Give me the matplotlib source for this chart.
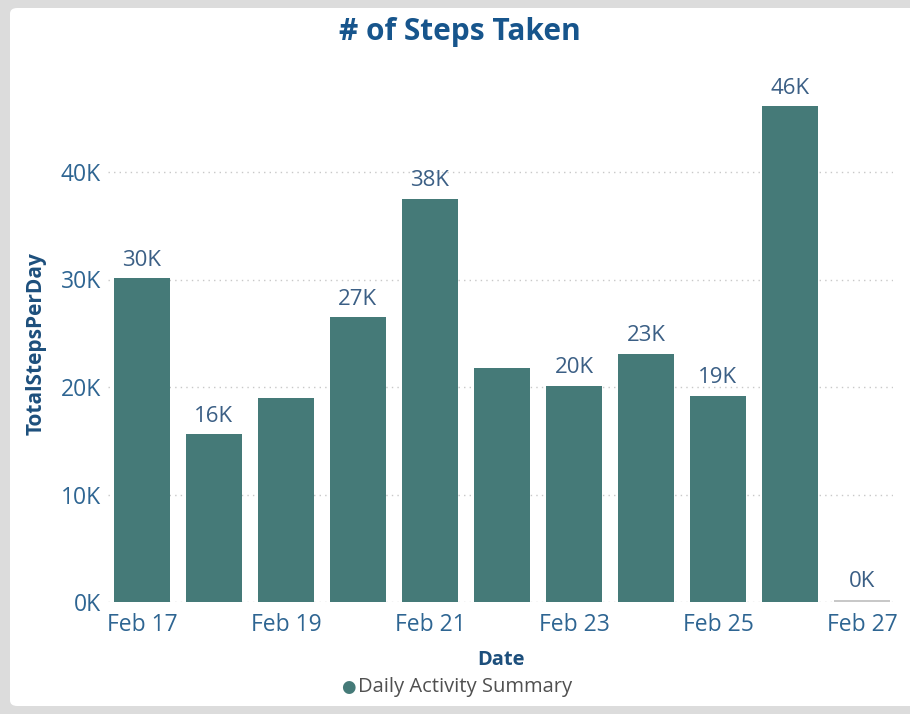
import matplotlib.pyplot as plt
from matplotlib.patches import FancyBboxPatch
from matplotlib.ticker import FuncFormatter

plt.rcParams['font.family'] = ['Open Sans', 'DejaVu Sans']

# dane
dni = ["Feb 17", "Feb 18", "Feb 19", "Feb 20", "Feb 21", "Feb 22",
       "Feb 23", "Feb 24", "Feb 25", "Feb 26", "Feb 27"]
kroki = [30100, 15600, 19000, 26500, 37500, 21800, 20100, 23100, 19200, 46100, 200]
etykiety = ["30K", "16K", "", "27K", "38K", "", "20K", "23K", "19K", "46K", "0K"]
tyki = ["Feb 17", "Feb 19", "Feb 21", "Feb 23", "Feb 25", "Feb 27"]

kolor_slupka = "#457a78"
kolor_tekstu = "#2e6592"

fig = plt.figure(figsize=(9.1, 7.14), dpi=100)
fig.patch.set_facecolor("#dcdcdc")
karta = FancyBboxPatch((10 / 910, 8 / 714), 1.2, 1 - 16 / 714,
                       boxstyle="round,pad=0,rounding_size=0.008",
                       transform=fig.transFigure, facecolor="white",
                       edgecolor="none", zorder=-5)
fig.patches.append(karta)

ax = fig.add_axes([108 / 910, 1 - 602 / 714, (893 - 108) / 910, (602 - 86) / 714])
ax.set_facecolor("none")
ax.set_zorder(2)

x = list(range(len(dni)))
kolory = [kolor_slupka] * (len(dni) - 1) + ["#c8c8c8"]
slupki = ax.bar(x, kroki, width=0.78, color=kolory, zorder=2)

for s, et in zip(slupki, etykiety):
    if et:
        ax.text(s.get_x() + s.get_width() / 2, s.get_height() + 700, et,
                ha="center", va="bottom", fontsize=16, color="#3b5f85")

ax.set_xlim(-0.47, 10.43)
ax.set_ylim(0, 48000)
ax.set_xticks([dni.index(t) for t in tyki])
ax.set_xticklabels(tyki)
ax.set_yticks([0, 10000, 20000, 30000, 40000])
ax.yaxis.set_major_formatter(FuncFormatter(lambda v, p: f"{int(v / 1000)}K"))
ax.tick_params(axis="both", length=0, labelsize=16.5, labelcolor=kolor_tekstu)
ax.tick_params(axis="x", pad=8)
ax.tick_params(axis="y", pad=5)
ax.grid(axis="y", color="#c8c8c8", linestyle=(0, (1, 3)), linewidth=1, zorder=0)
for sp in ax.spines.values():
    sp.set_visible(False)

ax.set_xlabel("Date", fontsize=14.5, fontweight="bold", color="#1d4f7c", labelpad=9)
ax.set_ylabel("TotalStepsPerDay", fontsize=15, fontweight="bold", color="#1d4f7c", labelpad=10)

fig.text(0.505, 1 - 32 / 714, "# of Steps Taken", ha="center", va="center",
         fontsize=21.5, fontweight="bold", color="#17558c")

fig.text(348 / 910, 1 - 687 / 714, "\u25cf", ha="center", va="center",
         fontsize=12, color=kolor_slupka, family=["DejaVu Sans"])
fig.text(358 / 910, 1 - 687 / 714, "Daily Activity Summary", ha="left", va="center",
         fontsize=14.5, color="#505050")

fig.savefig("out.png", dpi=100, facecolor=fig.get_facecolor())
